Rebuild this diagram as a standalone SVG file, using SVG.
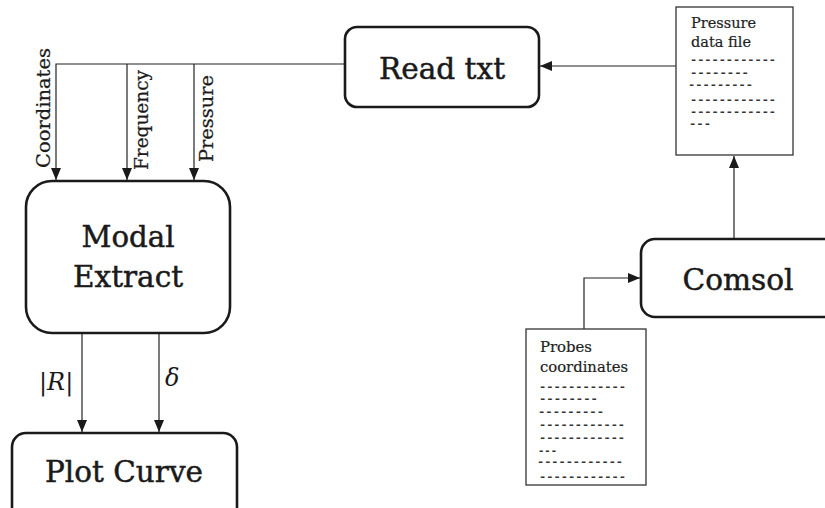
<svg xmlns="http://www.w3.org/2000/svg" width="825" height="508" viewBox="0 0 825 508">
<defs>
<marker id="arr" markerUnits="userSpaceOnUse" markerWidth="12" markerHeight="10" viewBox="0 0 12 10" refX="12" refY="5" orient="auto">
<path d="M0,0 L12,5 L0,10 Z" fill="#1a1a1a"/>
</marker>
<style>
.box{fill:#fff;stroke:#1a1a1a;stroke-width:2.6}
.file{fill:#fff;stroke:#333;stroke-width:1.3}
.conn{fill:none;stroke:#222;stroke-width:1.2}
.big{font-family:"DejaVu Serif","Liberation Serif",serif;font-size:30px;fill:#1a1a1a;stroke:#1a1a1a;stroke-width:0.5}
.lab{font-family:"DejaVu Serif","Liberation Serif",serif;font-size:18.5px;fill:#1a1a1a;stroke:#1a1a1a;stroke-width:0.25}
.small{font-family:"DejaVu Serif","Liberation Serif",serif;font-size:15px;fill:#222;stroke:#222;stroke-width:0.2}
.dash{font-family:"DejaVu Sans Mono","Liberation Mono",monospace;font-size:10px;font-weight:bold;fill:#333}
.math{font-family:"DejaVu Serif","Liberation Serif",serif;font-size:24px;fill:#1a1a1a}
</style>
</defs>
<rect width="825" height="508" fill="#fff"/>

<g id="connectors">
<path class="conn" d="M345,64 H56 V180" marker-end="url(#arr)"/>
<path class="conn" d="M127,64 V180" marker-end="url(#arr)"/>
<path class="conn" d="M194,64 V180" marker-end="url(#arr)"/>
<path class="conn" d="M676,66 H540" marker-end="url(#arr)"/>
<path class="conn" d="M734,239 V156" marker-end="url(#arr)"/>
<path class="conn" d="M584,329 V278 H640" marker-end="url(#arr)"/>
<path class="conn" d="M82,333 V432" marker-end="url(#arr)"/>
<path class="conn" d="M159,333 V432" marker-end="url(#arr)"/>
<text class="lab" transform="translate(50,168) rotate(-90)" textLength="120" lengthAdjust="spacingAndGlyphs">Coordinates</text>
<text class="lab" transform="translate(148,170) rotate(-90)" textLength="100" lengthAdjust="spacingAndGlyphs">Frequency</text>
<text class="lab" transform="translate(213,162) rotate(-90)" textLength="87" lengthAdjust="spacingAndGlyphs">Pressure</text>
<text class="math" x="39" y="390">|<tspan font-style="italic">R</tspan>|</text>
<text class="math" x="165" y="386" font-style="italic">δ</text>
</g>

<g id="read-txt">
<rect class="box" x="345" y="27" width="194" height="80" rx="12"/>
<text class="big" x="442" y="79" text-anchor="middle" textLength="126" lengthAdjust="spacingAndGlyphs">Read txt</text>
</g>

<g id="modal-extract">
<rect class="box" x="26" y="181" width="204" height="152" rx="26"/>
<text class="big" x="128" y="247" text-anchor="middle" textLength="93" lengthAdjust="spacingAndGlyphs">Modal</text>
<text class="big" x="128" y="287" text-anchor="middle" textLength="110" lengthAdjust="spacingAndGlyphs">Extract</text>
</g>

<g id="plot-curve">
<rect class="box" x="12" y="433" width="225" height="100" rx="14"/>
<text class="big" x="124" y="482" text-anchor="middle" textLength="158" lengthAdjust="spacingAndGlyphs">Plot Curve</text>
</g>

<g id="comsol">
<rect class="box" x="641" y="239" width="210" height="78" rx="14"/>
<text class="big" x="738" y="290" text-anchor="middle" textLength="111" lengthAdjust="spacingAndGlyphs">Comsol</text>
</g>

<g id="pressure-data-file">
<rect class="file" x="676" y="7" width="117" height="148"/>
<text class="small" x="691" y="28" textLength="65" lengthAdjust="spacingAndGlyphs">Pressure</text>
<text class="small" x="691" y="47" textLength="60" lengthAdjust="spacingAndGlyphs">data file</text>
<text class="dash" x="690" y="63" textLength="86" lengthAdjust="spacingAndGlyphs">------------</text>
<text class="dash" x="690" y="76" textLength="59" lengthAdjust="spacingAndGlyphs">--------</text>
<text class="dash" x="688" y="88" textLength="65" lengthAdjust="spacingAndGlyphs">---------</text>
<text class="dash" x="690" y="103" textLength="86" lengthAdjust="spacingAndGlyphs">------------</text>
<text class="dash" x="690" y="115" textLength="86" lengthAdjust="spacingAndGlyphs">------------</text>
<text class="dash" x="689" y="127" textLength="22" lengthAdjust="spacingAndGlyphs">---</text>
</g>

<g id="probes-coordinates">
<rect class="file" x="526" y="329" width="120" height="156"/>
<text class="small" x="540" y="352" textLength="52" lengthAdjust="spacingAndGlyphs">Probes</text>
<text class="small" x="540" y="372" textLength="88" lengthAdjust="spacingAndGlyphs">coordinates</text>
<text class="dash" x="539" y="390" textLength="87" lengthAdjust="spacingAndGlyphs">------------</text>
<text class="dash" x="539" y="402" textLength="59" lengthAdjust="spacingAndGlyphs">--------</text>
<text class="dash" x="538" y="415" textLength="66" lengthAdjust="spacingAndGlyphs">---------</text>
<text class="dash" x="539" y="428" textLength="86" lengthAdjust="spacingAndGlyphs">------------</text>
<text class="dash" x="539" y="441" textLength="86" lengthAdjust="spacingAndGlyphs">------------</text>
<text class="dash" x="538" y="454" textLength="19" lengthAdjust="spacingAndGlyphs">---</text>
<text class="dash" x="537" y="465" textLength="86" lengthAdjust="spacingAndGlyphs">------------</text>
<text class="dash" x="539" y="480" textLength="87" lengthAdjust="spacingAndGlyphs">------------</text>
</g>
</svg>
